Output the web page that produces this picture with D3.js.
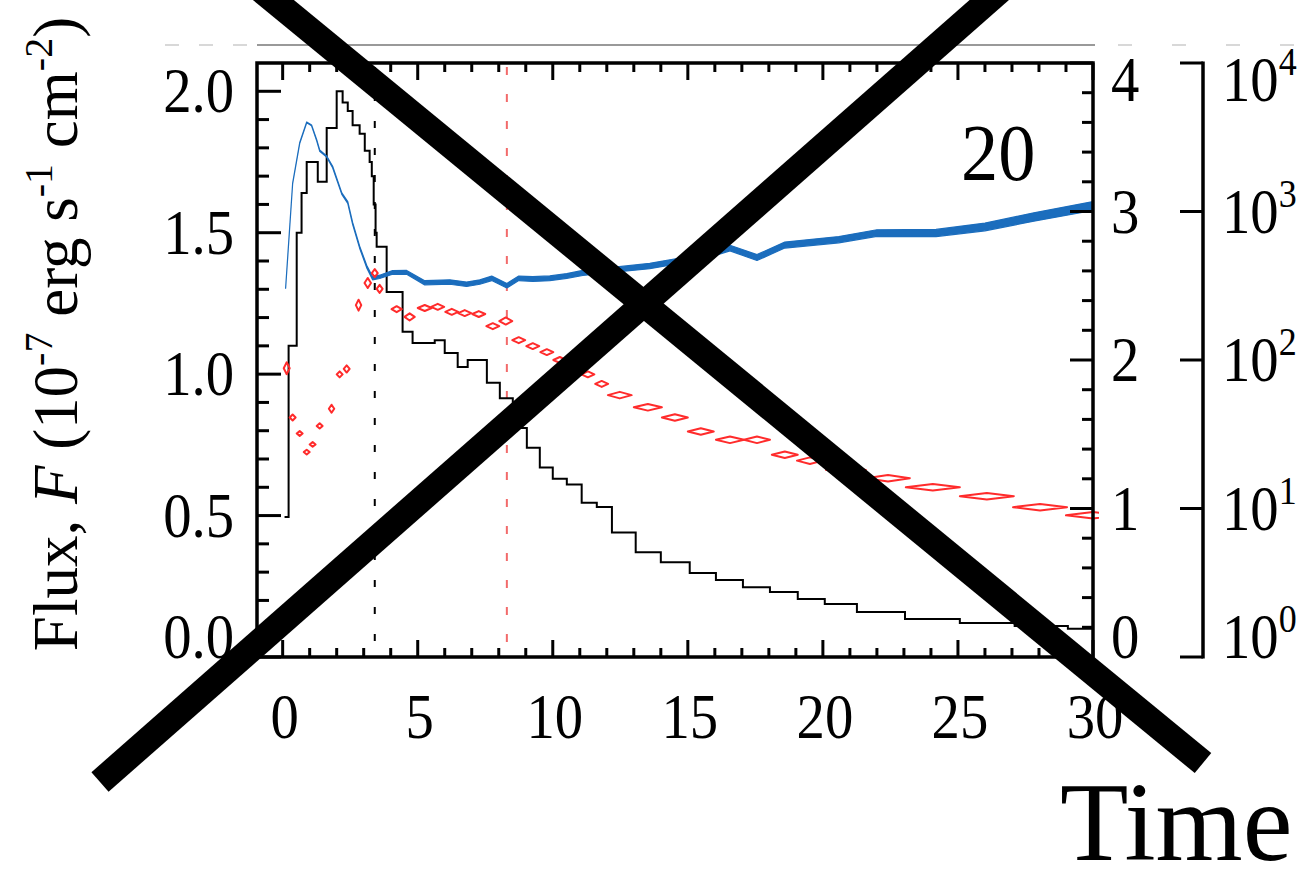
<!DOCTYPE html>
<html>
<head>
<meta charset="utf-8">
<title>Flux light curve</title>
<script src="https://cdn.jsdelivr.net/npm/d3@7"></script>
<style>
  body { margin: 0; background: #fff; }
  svg text { font-family: "Liberation Serif", "Times New Roman", serif; fill: #000; }
</style>
</head>
<body>
<div id="chart"></div>
<script>
// black histogram: bin start times and flux (1e-7 erg s-1 cm-2)
var fluxStart = [0.07,0.22,0.52,0.70,0.89,1.30,1.63,2.00,2.22,2.41,2.59,2.85,3.04,3.22,3.30,3.37,3.44,3.48,3.85,4.44,
                 4.81,5.63,6.00,6.48,6.85,7.56,8.04,8.52,9.04,9.52,10.0,10.52,11.07,11.63,12.19,13.07,14.0,15.07,16.04,17.04,
                 18.04,19.07,20.07,21.26,23.04,25.07,27.1,29.07];
var fluxValue = [0.495,1.10,1.50,1.64,1.75,1.68,1.87,2.00,1.96,1.93,1.88,1.85,1.79,1.75,1.70,1.60,1.50,1.45,1.29,1.15,
                 1.11,1.12,1.075,1.025,1.05,0.97,0.915,0.81,0.74,0.67,0.63,0.61,0.545,0.53,0.44,0.37,0.335,0.297,0.272,0.247,
                 0.23,0.205,0.187,0.159,0.134,0.12,0.11,0.10];
var fluxEnd = 30;

// blue curve, right linear axis
var blueTime = [0.11,0.37,0.63,0.89,1.07,1.26,1.37,1.63,1.85,2.19,2.41,2.59,2.85,3.11,3.33,3.59,4.07,4.59,5.26,6.19,
                6.81,7.30,7.74,8.30,8.74,9.26,9.89,10.52,11.11,12.37,13.59,14.44,15.44,16.56,17.56,18.59,20.59,22.0,24.19,26.0,
                27.81,30.0];
var blueValue = [2.485,3.19,3.46,3.60,3.58,3.48,3.41,3.37,3.30,3.12,3.06,2.92,2.76,2.63,2.55,2.56,2.59,2.59,2.52,2.525,
                 2.51,2.525,2.55,2.50,2.55,2.545,2.55,2.566,2.586,2.61,2.633,2.66,2.69,2.754,2.69,2.774,2.81,2.855,2.855,2.896,
                 2.963,3.037];
var blueErr = [0.002,0.002,0.003,0.003,0.003,0.004,0.004,0.004,0.005,0.005,0.006,0.006,0.007,0.008,0.010,0.011,0.012,0.013,0.014,0.015,
               0.015,0.015,0.015,0.015,0.015,0.016,0.016,0.016,0.017,0.017,0.018,0.018,0.019,0.019,0.020,0.020,0.021,0.022,0.024,0.026,
               0.028,0.030];

// red diamonds, log axis: centre time, value, half bin width, half height (dex)
var redTime = [0.15,0.37,0.63,0.89,1.11,1.37,1.81,2.11,2.37,2.81,3.15,3.41,3.59,4.22,4.70,5.26,5.74,6.26,6.74,7.26,
               7.78,8.26,8.74,9.26,9.78,10.26,10.78,11.30,11.81,12.48,13.52,14.52,15.48,16.56,17.56,18.59,19.52,20.85,22.41,24.07,
               26.07,28.04,30.0];
var redValue = [88,41,32,24,27,36,47,80,87,234,330,385,301,220,195,224,228,211,207,204,
                169,183,136,124,113,100,90,80,69,58,48,41,33,29,29,23,21,18.2,16,13.9,
                12.1,10.2,9.0];
var redHalfT = [0.11,0.11,0.11,0.11,0.11,0.11,0.10,0.11,0.11,0.10,0.12,0.11,0.11,0.19,0.19,0.26,0.24,0.24,0.24,0.24,
                0.24,0.24,0.24,0.24,0.24,0.24,0.24,0.24,0.24,0.44,0.52,0.48,0.48,0.52,0.48,0.48,0.48,0.74,0.81,1.0,
                1.0,1.0,1.0];
var redErrDex = [0.04,0.02,0.016,0.016,0.016,0.018,0.027,0.02,0.024,0.037,0.034,0.027,0.027,0.02,0.024,0.02,0.02,0.02,0.02,0.02,
                 0.02,0.024,0.02,0.02,0.02,0.02,0.02,0.02,0.02,0.022,0.022,0.022,0.022,0.022,0.022,0.022,0.022,0.022,0.022,0.022,
                 0.022,0.022,0.022];

var markBlack = 3.41, markRed = 8.3;
var panelLabel = "20";

var xTicks = [0,5,10,15,20,25,30];
var leftTicks = [0,0.5,1,1.5,2];
var leftLabels = ["0.0","0.5","1.0","1.5","2.0"];
var rightTicks = [0,1,2,3,4];
var logTicks = [1,10,100,1000,10000];
var logExp = ["0","1","2","3","4"];

var width = 1310, height = 884;
var boxL = 257, boxR = 1093, boxT = 63, boxB = 657;
var logX = 1203;

var svg = d3.select("#chart").append("svg")
    .attr("width", width)
    .attr("height", height);
svg.append("rect").attr("width", width).attr("height", height).attr("fill", "#fff");

var x = d3.scaleLinear().domain([-0.95, 30]).range([boxL, boxR]);
var yL = d3.scaleLinear().domain([0, 2.1]).range([boxB, boxT]);
var yR = d3.scaleLinear().domain([0, 4]).range([boxB, boxT]);
var yLog = d3.scaleLog().domain([1, 1e4]).range([boxB, boxT]);

var defs = svg.append("defs");
defs.append("clipPath").attr("id", "plotclip").append("rect")
    .attr("x", boxL).attr("y", boxT).attr("width", boxR - boxL).attr("height", boxB - boxT);
defs.append("clipPath").attr("id", "redclip").append("rect")
    .attr("x", boxL).attr("y", boxT).attr("width", boxR - boxL + 6).attr("height", boxB - boxT);

// faint frame line of the panel above
svg.append("line").attr("x1", boxL).attr("x2", boxR + 2).attr("y1", 45).attr("y2", 45)
    .attr("stroke", "#777").attr("stroke-width", 1.6);
svg.append("line").attr("x1", 165).attr("x2", boxL).attr("y1", 45).attr("y2", 45)
    .attr("stroke", "#ccc").attr("stroke-width", 1.6).attr("stroke-dasharray", "14,20");
svg.append("line").attr("x1", boxR + 25).attr("x2", 1300).attr("y1", 45).attr("y2", 45)
    .attr("stroke", "#ccc").attr("stroke-width", 1.6).attr("stroke-dasharray", "14,40");

// vertical markers
svg.append("line").attr("x1", x(markBlack)).attr("x2", x(markBlack)).attr("y1", boxT + 4).attr("y2", boxB)
    .attr("stroke", "#000").attr("stroke-width", 2).attr("stroke-dasharray", "7,20");
svg.append("line").attr("x1", x(markRed)).attr("x2", x(markRed)).attr("y1", boxT + 4).attr("y2", boxB)
    .attr("stroke", "#f26a6a").attr("stroke-width", 2).attr("stroke-dasharray", "8,19");

var plot = svg.append("g").attr("clip-path", "url(#plotclip)");

// flux histogram
var steps = fluxStart.map((t, i) => [t, fluxValue[i]]);
steps.push([fluxEnd, fluxValue[fluxValue.length - 1]]);
plot.append("path")
    .attr("d", d3.line().x(d => x(d[0])).y(d => yL(d[1])).curve(d3.curveStepAfter)(steps))
    .attr("fill", "none").attr("stroke", "#000").attr("stroke-width", 2);

// blue band
var blue = blueTime.map((t, i) => ({t: t, v: blueValue[i], e: blueErr[i]}));
plot.append("path")
    .attr("d", d3.area().x(d => x(d.t)).y0(d => yR(d.v - d.e)).y1(d => yR(d.v + d.e))(blue))
    .attr("fill", "#1b6dbd").attr("stroke", "#1b6dbd").attr("stroke-width", 1.2)
    .attr("stroke-linejoin", "round");

// red diamonds
var red = redTime.map((t, i) => ({t: t, v: redValue[i], h: redHalfT[i], e: redErrDex[i]}));
svg.append("g").attr("clip-path", "url(#redclip)")
    .selectAll("path").data(red).enter().append("path")
    .attr("d", function(d) {
        var cx = x(d.t), cy = yLog(d.v);
        var xl = x(d.t - d.h), xr = x(d.t + d.h);
        var yt = yLog(d.v * Math.pow(10, d.e)), yb = yLog(d.v / Math.pow(10, d.e));
        return "M" + xl + "," + cy + "L" + cx + "," + yt + "L" + xr + "," + cy + "L" + cx + "," + yb + "Z";
    })
    .attr("fill", "none").attr("stroke", "#ff2b2b").attr("stroke-width", 2)
    .attr("stroke-linejoin", "round");

// frame
svg.append("rect").attr("x", boxL).attr("y", boxT).attr("width", boxR - boxL).attr("height", boxB - boxT)
    .attr("fill", "none").attr("stroke", "#000").attr("stroke-width", 3.5);

var ticks = svg.append("g").attr("stroke", "#000").attr("stroke-width", 3);
var xMinor = d3.range(0, 31, 1);
xMinor.forEach(function(t) {
    var len = xTicks.indexOf(t) >= 0 ? 17 : 9;
    ticks.append("line").attr("x1", x(t)).attr("x2", x(t)).attr("y1", boxB).attr("y2", boxB - len);
    ticks.append("line").attr("x1", x(t)).attr("x2", x(t)).attr("y1", boxT).attr("y2", boxT + len);
});
d3.range(0, 21, 1).forEach(function(k) {
    var v = k / 10, len = k % 5 === 0 ? 24 : 12;
    ticks.append("line").attr("x1", boxL).attr("x2", boxL + len).attr("y1", yL(v)).attr("y2", yL(v));
});
d3.range(0, 21, 1).forEach(function(k) {
    var v = k / 5, len = k % 5 === 0 ? 23 : 11;
    ticks.append("line").attr("x1", boxR).attr("x2", boxR - len).attr("y1", yR(v)).attr("y2", yR(v));
});

// log axis
svg.append("line").attr("x1", logX).attr("x2", logX).attr("y1", boxT - 1.5).attr("y2", boxB + 1.5)
    .attr("stroke", "#000").attr("stroke-width", 3.5);
logTicks.forEach(function(v) {
    ticks.append("line").attr("x1", logX).attr("x2", logX - 23).attr("y1", yLog(v)).attr("y2", yLog(v));
});

function labelY(py) { return Math.max(boxT + 17, Math.min(boxB - 20, py)); }
var sx = 0.9, fs = 63;

xTicks.forEach(function(t) {
    svg.append("text").attr("transform", "translate(" + (x(t) + 2) + ",738) scale(" + sx + ",1)")
        .attr("text-anchor", "middle").attr("font-size", fs).text(t);
});
leftTicks.forEach(function(v, i) {
    svg.append("text").attr("transform", "translate(234," + (labelY(yL(v)) + 21) + ") scale(" + sx + ",1)")
        .attr("text-anchor", "end").attr("font-size", fs).text(leftLabels[i]);
});
rightTicks.forEach(function(v) {
    svg.append("text").attr("transform", "translate(1111," + (labelY(yR(v)) + 21) + ") scale(" + sx + ",1)")
        .attr("text-anchor", "start").attr("font-size", fs).text(v);
});
logTicks.forEach(function(v, i) {
    var t = svg.append("text").attr("transform", "translate(1222," + (labelY(yLog(v)) + 21) + ") scale(" + sx + ",1)")
        .attr("text-anchor", "start").attr("font-size", fs);
    t.append("tspan").text("10");
    t.append("tspan").attr("font-size", 40).attr("dy", -26).text(logExp[i]);
});

// panel number
svg.append("text").attr("transform", "translate(961,180) scale(0.93,1)")
    .attr("font-size", 80).text(panelLabel);

// y axis title
var yt = svg.append("text").attr("transform", "translate(77,334) rotate(-90)")
    .attr("text-anchor", "middle").attr("font-size", 63);
yt.append("tspan").text("Flux, ");
yt.append("tspan").attr("font-style", "italic").text("F");
yt.append("tspan").text(" (10");
yt.append("tspan").attr("font-size", 40).attr("dy", -25).text("-7");
yt.append("tspan").attr("dy", 25).text(" erg s");
yt.append("tspan").attr("font-size", 40).attr("dy", -25).text("-1");
yt.append("tspan").attr("dy", 25).text(" cm");
yt.append("tspan").attr("font-size", 40).attr("dy", -25).text("-2");
yt.append("tspan").attr("dy", 25).text(")");

// x axis title
svg.append("text").attr("x", 1060).attr("y", 860).attr("font-size", 112).text("Time");

// crossing-out overlay
var cross = svg.append("g").attr("stroke", "#000").attr("stroke-width", 26).attr("stroke-linecap", "butt");
cross.append("line").attr("x1", 249).attr("y1", -20).attr("x2", 1203).attr("y2", 763);
cross.append("line").attr("x1", 1012).attr("y1", -20).attr("x2", 100).attr("y2", 782);
</script>
</body>
</html>
